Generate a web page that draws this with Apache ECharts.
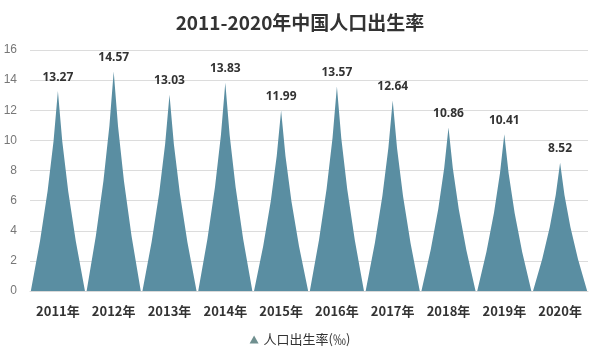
<!DOCTYPE html>
<html><head><meta charset="utf-8">
<script src="https://cdn.jsdelivr.net/npm/echarts@6/dist/echarts.min.js"></script>
<style>html,body{margin:0;padding:0;background:#fff}#c{width:600px;height:359px}</style>
</head><body><div id="c"></div>
<script>
const categories = ['2011年','2012年','2013年','2014年','2015年','2016年','2017年','2018年','2019年','2020年'];
const birthRate = [13.27, 14.57, 13.03, 13.83, 11.99, 13.57, 12.64, 10.86, 10.41, 8.52];
const seriesName = '人口出生率(‰)';
const chart = echarts.init(document.getElementById('c'));
const spike = 'path://M0,100 Q37,50 50,0 Q63,50 100,100 z';
chart.setOption({
  animation: false,
  title: {text: '2011-2020年中国人口出生率', left: 'center', top: 8,
    textStyle: {fontFamily: 'Noto Sans CJK SC', fontSize: 19, fontWeight: 'bold', color: '#333'}},
  grid: {left: 30, right: 12, top: 50, bottom: 68},
  legend: {bottom: 8, left: 'center', itemWidth: 9, itemHeight: 8, icon: 'triangle',
    data: [{name: seriesName, itemStyle: {color: '#6f8f8f'}}],
    textStyle: {fontFamily: 'Noto Sans CJK SC', fontSize: 13, color: '#333'}},
  xAxis: {type: 'category', data: categories,
    axisLine: {show: true, lineStyle: {color: '#d9d9d9'}}, axisTick: {show: false},
    axisLabel: {interval: 0, fontFamily: 'Noto Sans CJK SC', fontSize: 13, fontWeight: 'bold', color: '#333', margin: 14}},
  yAxis: {type: 'value', min: 0, max: 16, interval: 2,
    axisLine: {show: false}, axisTick: {show: false},
    splitLine: {lineStyle: {color: '#dcdcdc'}},
    axisLabel: {fontFamily: 'Liberation Sans', fontSize: 12, color: '#777', margin: 13}},
  series: [{
    name: seriesName, type: 'pictorialBar', data: birthRate,
    symbol: spike, symbolSize: ['100%', '100%'], barCategoryGap: '3%',
    itemStyle: {color: '#5a8ea2'},
    label: {show: true, position: 'top', distance: 8,
      fontFamily: 'Noto Sans', fontSize: 12, fontWeight: 'bold', color: '#333'}
  }]
});
</script></body></html>
